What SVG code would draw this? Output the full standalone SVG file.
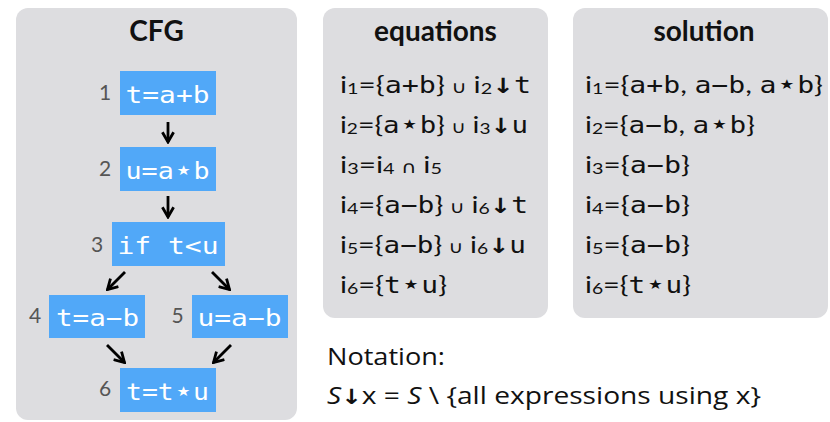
<svg xmlns="http://www.w3.org/2000/svg" width="830" height="422" viewBox="0 0 830 422">
<style>
.panel{fill:#dddde0}
.title{font-family:Lato,"Open Sans",sans-serif;font-weight:700;font-size:28px;fill:#111;text-anchor:middle}
.node rect{fill:#51a8f8}
.code{font-family:"DejaVu Sans Mono","Liberation Mono",monospace;font-size:23px;fill:#fff;text-anchor:middle}
.num{font-family:Lato,"Open Sans",sans-serif;font-size:21px;fill:#555;text-anchor:middle}
.row{font-family:Lato,"Open Sans",sans-serif;font-size:24px;fill:#111}
.m{font-family:"DejaVu Sans Mono","Liberation Mono",monospace;font-size:23px}
.st{font-family:"DejaVu Sans",sans-serif;font-size:27px}
.arr{font-family:"DejaVu Sans",sans-serif;font-weight:700;font-size:21px}
.sub{font-size:16px}
.op{font-family:"DejaVu Sans",sans-serif;font-size:17px}
.note{font-family:"Open Sans",Lato,sans-serif;font-size:24px;fill:#111}
.edge{stroke:#000;stroke-width:2.8;fill:none;marker-end:url(#ah)}
</style>
<defs>
<marker id="ah" viewBox="0 0 10 10" refX="8.5" refY="5" markerWidth="14" markerHeight="14" markerUnits="userSpaceOnUse" orient="auto">
<path d="M1.5,1 L8.5,5 L1.5,9" fill="none" stroke="#000" stroke-width="2"/>
</marker>
</defs>

<g id="cfg-panel">
<rect class="panel" x="16" y="8" width="281" height="412" rx="12"/>
<text class="title" x="156.5" y="41">CFG</text>
</g>

<g id="n1" class="node"><rect x="120" y="71" width="96" height="44"/><text class="num" x="105" y="100">1</text><text class="code" x="167.5" y="103" textLength="84" lengthAdjust="spacingAndGlyphs">t=a+b</text></g>
<g id="n2" class="node"><rect x="120" y="147" width="96" height="44"/><text class="num" x="105" y="176">2</text><text class="code" x="167.5" y="179" textLength="84" lengthAdjust="spacingAndGlyphs">u=a<tspan class="st">⋆</tspan>b</text></g>
<g id="n3" class="node"><rect x="112" y="222" width="113" height="44"/><text class="num" x="97" y="252">3</text><text class="code" x="168" y="254" textLength="101" lengthAdjust="spacingAndGlyphs">if t&lt;u</text></g>
<g id="n4" class="node"><rect x="49" y="295" width="96" height="43"/><text class="num" x="35" y="323">4</text><text class="code" x="97.5" y="326" textLength="83" lengthAdjust="spacingAndGlyphs">t=a−b</text></g>
<g id="n5" class="node"><rect x="192" y="295" width="96" height="43"/><text class="num" x="177.5" y="323">5</text><text class="code" x="239.5" y="326" textLength="84" lengthAdjust="spacingAndGlyphs">u=a−b</text></g>
<g id="n6" class="node"><rect x="120" y="368" width="96" height="44"/><text class="num" x="105" y="396">6</text><text class="code" x="167.5" y="400" textLength="83" lengthAdjust="spacingAndGlyphs">t=t<tspan class="st">⋆</tspan>u</text></g>

<g id="edges">
<line class="edge" x1="168" y1="122" x2="168" y2="142"/>
<line class="edge" x1="168" y1="196" x2="168" y2="217"/>
<line class="edge" x1="125" y1="272" x2="107.5" y2="289.5"/>
<line class="edge" x1="212" y1="272" x2="229.5" y2="289.5"/>
<line class="edge" x1="107" y1="345" x2="124.5" y2="362.5"/>
<line class="edge" x1="231" y1="345" x2="213.5" y2="362.5"/>
</g>

<g id="equations">
<rect class="panel" x="323" y="8" width="225" height="310" rx="12"/>
<text class="title" x="435.5" y="41">equations</text>
<text class="row" x="340" y="93" textLength="191" lengthAdjust="spacingAndGlyphs">i<tspan class="sub" dy="1">1</tspan><tspan dy="-1">={</tspan><tspan class="m">a+b</tspan>}<tspan class="op"> ∪ </tspan>i<tspan class="sub" dy="1">2</tspan><tspan class="arr" dy="-1">↓</tspan><tspan class="m">t</tspan></text>
<text class="row" x="340" y="133" textLength="188" lengthAdjust="spacingAndGlyphs">i<tspan class="sub" dy="1">2</tspan><tspan dy="-1">={</tspan><tspan class="m">a</tspan><tspan class="st">⋆</tspan><tspan class="m">b</tspan>}<tspan class="op"> ∪ </tspan>i<tspan class="sub" dy="1">3</tspan><tspan class="arr" dy="-1">↓</tspan><tspan class="m">u</tspan></text>
<text class="row" x="340" y="173" textLength="102" lengthAdjust="spacingAndGlyphs">i<tspan class="sub" dy="1">3</tspan><tspan dy="-1">=i</tspan><tspan class="sub" dy="1">4</tspan><tspan class="op" dy="-1"> ∩ </tspan>i<tspan class="sub" dy="1">5</tspan></text>
<text class="row" x="340" y="213" textLength="188" lengthAdjust="spacingAndGlyphs">i<tspan class="sub" dy="1">4</tspan><tspan dy="-1">={</tspan><tspan class="m">a−b</tspan>}<tspan class="op"> ∪ </tspan>i<tspan class="sub" dy="1">6</tspan><tspan class="arr" dy="-1">↓</tspan><tspan class="m">t</tspan></text>
<text class="row" x="340" y="253" textLength="186" lengthAdjust="spacingAndGlyphs">i<tspan class="sub" dy="1">5</tspan><tspan dy="-1">={</tspan><tspan class="m">a−b</tspan>}<tspan class="op"> ∪ </tspan>i<tspan class="sub" dy="1">6</tspan><tspan class="arr" dy="-1">↓</tspan><tspan class="m">u</tspan></text>
<text class="row" x="340" y="293" textLength="107" lengthAdjust="spacingAndGlyphs">i<tspan class="sub" dy="1">6</tspan><tspan dy="-1">={</tspan><tspan class="m">t</tspan><tspan class="st">⋆</tspan><tspan class="m">u</tspan>}</text>
</g>

<g id="solution">
<rect class="panel" x="573" y="8" width="255" height="310" rx="12"/>
<text class="title" x="704" y="41">solution</text>
<text class="row" x="585" y="93" textLength="238" lengthAdjust="spacingAndGlyphs">i<tspan class="sub" dy="1">1</tspan><tspan dy="-1">={</tspan><tspan class="m">a+b</tspan>, <tspan class="m">a−b</tspan>, <tspan class="m">a</tspan><tspan class="st">⋆</tspan><tspan class="m">b</tspan>}</text>
<text class="row" x="585" y="133" textLength="170" lengthAdjust="spacingAndGlyphs">i<tspan class="sub" dy="1">2</tspan><tspan dy="-1">={</tspan><tspan class="m">a−b</tspan>, <tspan class="m">a</tspan><tspan class="st">⋆</tspan><tspan class="m">b</tspan>}</text>
<text class="row" x="585" y="173" textLength="105" lengthAdjust="spacingAndGlyphs">i<tspan class="sub" dy="1">3</tspan><tspan dy="-1">={</tspan><tspan class="m">a−b</tspan>}</text>
<text class="row" x="585" y="213" textLength="105" lengthAdjust="spacingAndGlyphs">i<tspan class="sub" dy="1">4</tspan><tspan dy="-1">={</tspan><tspan class="m">a−b</tspan>}</text>
<text class="row" x="585" y="253" textLength="105" lengthAdjust="spacingAndGlyphs">i<tspan class="sub" dy="1">5</tspan><tspan dy="-1">={</tspan><tspan class="m">a−b</tspan>}</text>
<text class="row" x="585" y="293" textLength="106" lengthAdjust="spacingAndGlyphs">i<tspan class="sub" dy="1">6</tspan><tspan dy="-1">={</tspan><tspan class="m">t</tspan><tspan class="st">⋆</tspan><tspan class="m">u</tspan>}</text>
</g>

<g id="notation">
<text class="note" x="327" y="365" textLength="118" lengthAdjust="spacingAndGlyphs">Notation:</text>
<text class="note" x="327" y="404" textLength="434" lengthAdjust="spacingAndGlyphs"><tspan font-style="italic">S</tspan><tspan class="arr" font-size="23px">↓</tspan>x = <tspan font-style="italic">S</tspan> \ {all expressions using x}</text>
</g>
</svg>
